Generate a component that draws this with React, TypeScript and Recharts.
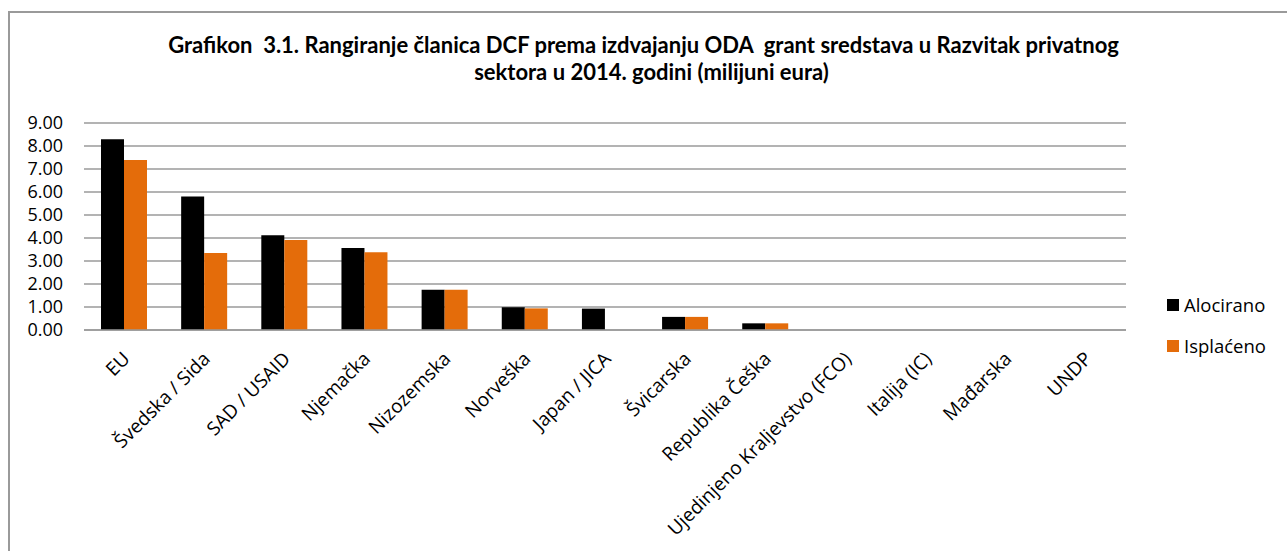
// Grafikon 3.1 — rangiranje članica DCF, ODA grant sredstva za razvitak privatnog sektora (2014).
import { BarChart, Bar, XAxis, YAxis, CartesianGrid, Legend } from 'recharts'

const kategorije = [
  'EU',
  'Švedska / Sida',
  'SAD / USAID',
  'Njemačka',
  'Nizozemska',
  'Norveška',
  'Japan / JICA',
  'Švicarska',
  'Republika Češka',
  'Ujedinjeno Kraljevstvo (FCO)',
  'Italija (IC)',
  'Mađarska',
  'UNDP',
]
const alocirano = [8.29, 5.8, 4.12, 3.57, 1.75, 0.99, 0.93, 0.57, 0.29, 0, 0, 0, 0]
const isplaceno = [7.39, 3.35, 3.91, 3.38, 1.75, 0.94, 0, 0.57, 0.29, 0, 0, 0, 0]
const yTicks = [0, 1, 2, 3, 4, 5, 6, 7, 8, 9]

const naslov1 = 'Grafikon  3.1. Rangiranje članica DCF prema izdvajanju ODA  grant sredstava u Razvitak privatnog'
const naslov2 = 'sektora u 2014. godini (milijuni eura)'

const data = kategorije.map((k, i) => ({ k, alocirano: alocirano[i], isplaceno: isplaceno[i] }))

const FONT = '"Open Sans", sans-serif'
const GRID = '#9a9a9a'
const LEGEND_W = 120

function XTick(props: any) {
  const { x, y, payload } = props
  const tx = x + 7
  const ty = y + 30
  return (
    <text
      x={tx}
      y={ty}
      transform={`rotate(-45 ${tx} ${ty})`}
      textAnchor="end"
      fontSize={19}
      fontFamily={FONT}
      fill="#000"
    >
      {payload.value}
    </text>
  )
}

function Legenda(props: any) {
  const items = props.payload ?? []
  return (
    <div style={{ fontFamily: FONT, fontSize: 18.5, color: '#000' }}>
      {items.map((it: any) => (
        <div key={it.value} style={{ display: 'flex', alignItems: 'center', height: 41 }}>
          <span style={{ width: 12, height: 12, background: it.color, marginRight: 5 }} />
          <span>{it.value}</span>
        </div>
      ))}
    </div>
  )
}

export default function App() {
  return (
    <div style={{ position: 'absolute', left: 0, top: 0, width: 1287, height: 551, overflow: 'hidden', background: '#fff' }}>
      {/* okvir grafikona: vidi se samo lijevi i gornji rub */}
      <div
        style={{
          position: 'absolute',
          left: 8,
          top: 11,
          width: 1300,
          height: 560,
          borderLeft: `2px solid ${GRID}`,
          borderTop: `2px solid ${GRID}`,
        }}
      />
      <div
        style={{
          position: 'absolute',
          left: 0,
          width: 1287,
          top: 31,
          textAlign: 'center',
          fontFamily: 'Lato, sans-serif',
          fontWeight: 700,
          fontSize: 22,
          lineHeight: '27px',
          color: '#000',
          whiteSpace: 'pre',
        }}
      >
        <div>{naslov1}</div>
        <div style={{ paddingLeft: 16 }}>{naslov2}</div>
      </div>
      <div style={{ position: 'absolute', left: 0, top: 0 }}>
        <BarChart
          width={1287}
          height={551}
          data={data}
          margin={{ top: 123, right: 161 - LEGEND_W, left: 0, bottom: 0 }}
          barGap={0}
          barSize={23}
        >
          <CartesianGrid vertical={false} stroke={GRID} strokeWidth={1.5} />
          <XAxis
            dataKey="k"
            interval={0}
            height={221}
            tick={<XTick />}
            tickLine={false}
            tickSize={0}
            tickMargin={0}
            axisLine={{ stroke: GRID, strokeWidth: 1.5 }}
          />
          <YAxis
            width={84}
            domain={[0, 9]}
            ticks={yTicks}
            interval={0}
            tickFormatter={(v: number) => v.toFixed(2)}
            tick={{ fontSize: 18, fontFamily: FONT, fill: '#000' }}
            tickLine={false}
            axisLine={false}
            tickSize={0}
            tickMargin={21}
          />
          <Legend
            layout="vertical"
            align="right"
            verticalAlign="top"
            content={<Legenda />}
            wrapperStyle={{ left: 1167, top: 284, width: LEGEND_W }}
          />
          <Bar dataKey="alocirano" name="Alocirano" fill="#000000" isAnimationActive={false} />
          <Bar dataKey="isplaceno" name="Isplaćeno" fill="#E46C0A" isAnimationActive={false} />
        </BarChart>
      </div>
    </div>
  )
}
